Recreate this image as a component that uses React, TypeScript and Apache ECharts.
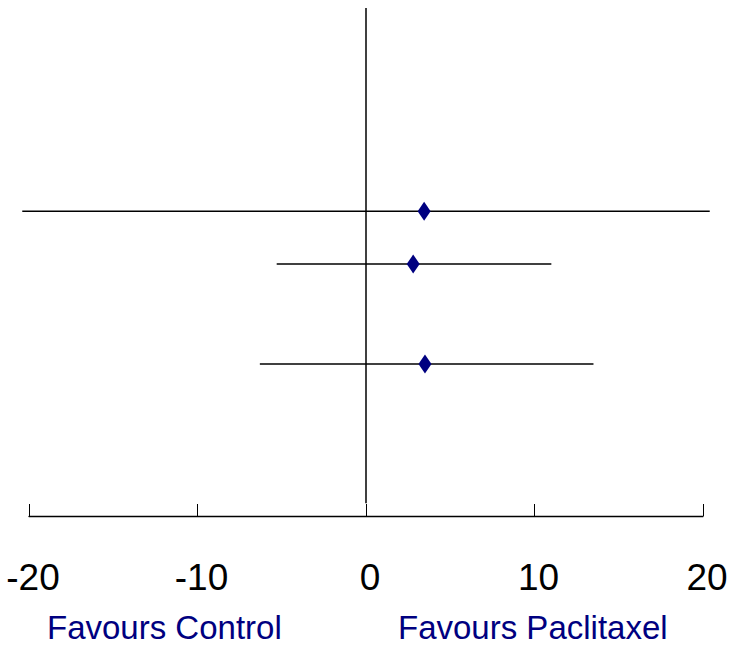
import React, { useEffect, useRef } from "react";
import * as echarts from "echarts";

// Forest plot data (rows are positions from top, 0..10 scale)
const studyRow = [4, 5.04, 7.01];
const estimate = [3.45, 2.8, 3.5];
const lower = [-20.4, -5.3, -6.3];
const upper = [20.4, 11.0, 13.5];
const referenceLine = [[0, 0, 9.75]];
const sideLabels = ["Favours Control", "Favours Paclitaxel"];

export default function App() {
  const ref = useRef<HTMLDivElement>(null);

  useEffect(() => {
    const chart = echarts.init(ref.current!, null, { renderer: "svg" });
    const font = "'Liberation Sans', Arial, sans-serif";
    chart.setOption({
      animation: false,
      backgroundColor: "#ffffff",
      grid: { left: 29, right: 28, top: 8, bottom: 131 },
      xAxis: {
        type: "value",
        min: -20,
        max: 20,
        interval: 10,
        axisLine: { show: true, onZero: false, lineStyle: { color: "#000", width: 1.3 } },
        axisTick: { show: true, inside: true, length: 12, lineStyle: { color: "#000", width: 1 } },
        axisLabel: {
          fontSize: 37,
          color: "#000",
          margin: 43,
          padding: [0, 0, 0, 8],
          fontFamily: font,
        },
        splitLine: { show: false },
      },
      yAxis: { type: "value", min: 0, max: 10, inverse: true, show: false },
      graphic: [
        {
          type: "text",
          left: 47,
          top: 608,
          style: { text: sideLabels[0], fill: "#000080", font: `33px ${font}`, lineHeight: 38 },
        },
        {
          type: "text",
          left: 398,
          top: 608,
          style: { text: sideLabels[1], fill: "#000080", font: `33px ${font}`, lineHeight: 38 },
        },
      ],
      series: [
        {
          type: "custom",
          clip: false,
          data: referenceLine,
          encode: { x: 0, y: [1, 2] },
          renderItem: (params: any, api: any) => {
            const a = api.coord([api.value(0), api.value(1)]);
            const b = api.coord([api.value(0), api.value(2)]);
            return {
              type: "line",
              shape: { x1: a[0], y1: a[1], x2: b[0], y2: b[1] },
              style: { stroke: "#000", lineWidth: 1.5 },
            };
          },
        },
        {
          type: "custom",
          clip: false,
          data: studyRow.map((r, i) => [lower[i], upper[i], r]),
          encode: { x: [0, 1], y: 2 },
          renderItem: (params: any, api: any) => {
            const a = api.coord([api.value(0), api.value(2)]);
            const b = api.coord([api.value(1), api.value(2)]);
            return {
              type: "line",
              shape: { x1: a[0], y1: a[1], x2: b[0], y2: b[1] },
              style: { stroke: "#000", lineWidth: 1.5 },
            };
          },
        },
        {
          type: "scatter",
          z: 5,
          data: studyRow.map((r, i) => [estimate[i], r]),
          symbol: "diamond",
          symbolSize: [13, 19],
          itemStyle: { color: "#000080", opacity: 1 },
        },
      ],
    });
    return () => chart.dispose();
  }, []);

  return (
    <div
      ref={ref}
      style={{ position: "absolute", left: 0, top: 0, width: 731, height: 647 }}
    />
  );
}
